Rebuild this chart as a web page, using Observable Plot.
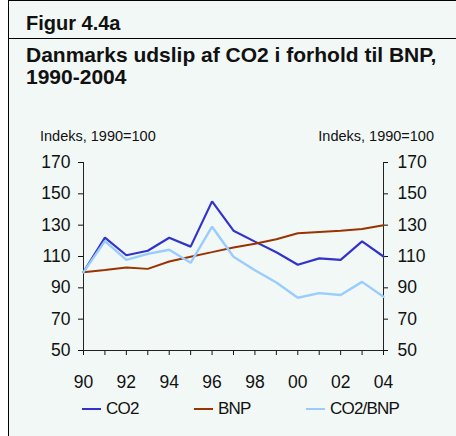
<!DOCTYPE html>
<html>
<head>
<meta charset="utf-8">
<script src="https://cdn.jsdelivr.net/npm/d3@7"></script>
<script src="https://cdn.jsdelivr.net/npm/@observablehq/plot@0.6"></script>
<style>
  html, body { margin: 0; padding: 0; background: #ffffff; }
  body { width: 456px; height: 436px; position: relative; overflow: hidden;
         font-family: Arial, "Liberation Sans", sans-serif; color: #111; }
  #frame { position: absolute; left: 8px; top: 0; width: 448px; height: 436px;
           background: #f2f8f6; border-left: 1.5px solid #000; border-top: 1.5px solid #000;
           box-sizing: border-box; }
  #sep { position: absolute; left: 8px; top: 37.5px; width: 448px; height: 0;
         border-top: 1.5px solid #000; }
  #fig { position: absolute; left: 26px; top: 13px; font-size: 20px; line-height: 20px; font-weight: bold; white-space: nowrap; }
  #title { position: absolute; left: 26px; top: 44px; font-size: 21px; line-height: 22.3px; font-weight: bold; white-space: nowrap; }
  .ylab { position: absolute; top: 129px; font-size: 14.5px; line-height: 15px; white-space: nowrap; }
  #ylabL { left: 40px; }
  #ylabR { right: 22px; }
  #chart { position: absolute; left: 0; top: 148px; }
  .leg { position: absolute; top: 400px; height: 18px; display: flex; align-items: center;
         font-size: 17px; line-height: 18px; letter-spacing: -0.8px; white-space: nowrap; }
  .sw { width: 19px; height: 2px; margin-right: 5px; }
</style>
</head>
<body>
<div id="frame"></div>
<div id="sep"></div>
<div id="fig">Figur 4.4a</div>
<div id="title">Danmarks udslip af CO2 i forhold til BNP,<br>1990-2004</div>
<div class="ylab" id="ylabL">Indeks, 1990=100</div>
<div class="ylab" id="ylabR">Indeks, 1990=100</div>
<div id="chart"></div>
<div id="legend"></div>
<script>
const years = [1990, 1991, 1992, 1993, 1994, 1995, 1996, 1997, 1998, 1999, 2000, 2001, 2002, 2003, 2004];
const co2   = [100, 122, 110.8, 113.7, 122, 116.3, 145.2, 126.5, 119.5, 112.7, 104.7, 108.8, 107.8, 119.7, 110];
const bnp   = [100, 101.4, 103, 102.1, 106.8, 109.9, 112.8, 115.8, 118.2, 121, 124.8, 125.6, 126.4, 127.5, 130];
const ratio = [100, 119.8, 107.9, 111.7, 114.3, 106, 129, 109.8, 101.2, 93.4, 83.7, 86.6, 85.4, 93.8, 84.3];
const seriesNames = ["CO2", "BNP", "CO2/BNP"];
const seriesColors = ["#3333cc", "#993300", "#99ccff"];
const seriesWidths = [2.2, 2, 2.4];
const yTicks = [50, 70, 90, 110, 130, 150, 170];

const seriesValues = [co2, bnp, ratio];
const rows = [];
seriesNames.forEach((name, si) => {
  years.forEach((yr, i) => rows.push({ year: yr, value: seriesValues[si][i], series: name }));
});

const font = "Arial, 'Liberation Sans', sans-serif";
const chart = Plot.plot({
  width: 456,
  height: 244,
  marginLeft: 83,
  marginRight: 73,
  marginTop: 14,
  marginBottom: 42,
  style: { background: "transparent", fontFamily: font, fontSize: "17.5px", color: "#111", overflow: "visible" },
  x: { domain: [1990, 2004] },
  y: { domain: [50, 170] },
  marks: [
    Plot.axisY({ anchor: "left", ticks: yTicks, tickSize: 5, tickPadding: 8, label: null, fontSize: 17.5, tickFormat: d => String(d) }),
    Plot.axisY({ anchor: "right", ticks: yTicks, tickSize: 4, tickPadding: 10, label: null, fontSize: 17.5, tickFormat: d => String(d) }),
    Plot.axisX({ ticks: years, tickSize: 5, tickPadding: 20, label: null, fontSize: 17.5,
                 tickFormat: d => (d % 2 === 0 ? String(d % 100).padStart(2, "0") : "") }),
    Plot.ruleX([1990, 2004], { stroke: "#222", strokeWidth: 1 }),
    Plot.ruleY([50], { stroke: "#222", strokeWidth: 1 }),
    ...seriesNames.map((name, si) =>
      Plot.line(rows.filter(r => r.series === name), {
        x: "year", y: "value", stroke: seriesColors[si], strokeWidth: seriesWidths[si], strokeLinejoin: "miter"
      }))
  ]
});
document.getElementById("chart").appendChild(chart);

const legend = document.getElementById("legend");
seriesNames.forEach((name, si) => {
  const item = document.createElement("div");
  item.className = "leg";
  item.style.left = (82 + si * 112) + "px";
  const sw = document.createElement("div");
  sw.className = "sw";
  sw.style.background = seriesColors[si];
  item.appendChild(sw);
  const t = document.createElement("span");
  t.textContent = name;
  item.appendChild(t);
  legend.appendChild(item);
});
</script>
</body>
</html>
